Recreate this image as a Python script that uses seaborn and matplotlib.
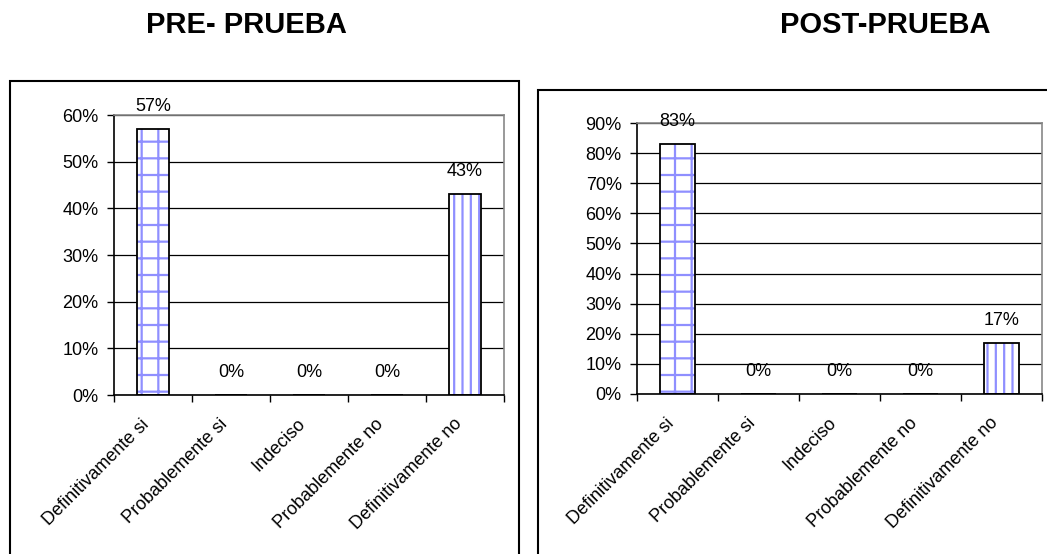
# Recreate PRE / POST prueba bar charts
import matplotlib
matplotlib.use("Agg")
import matplotlib.pyplot as plt
import matplotlib.transforms as mtransforms
from matplotlib.patches import Rectangle
import seaborn as sns
import numpy as np

# Data
categories = ["Definitivamente si", "Probablemente si", "Indeciso",
              "Probablemente no", "Definitivamente no"]
pre_values = [57, 0, 0, 0, 43]
post_values = [83, 0, 0, 0, 17]
hatches = ["+", "", "", "", "||"]

sns.set_style("white")
plt.rcParams["font.family"] = ["Liberation Sans", "DejaVu Sans"]
plt.rcParams["text.color"] = "black"
plt.rcParams["xtick.color"] = "black"
plt.rcParams["ytick.color"] = "black"
plt.rcParams["hatch.linewidth"] = 1.6

W, H = 1047, 554
fig = plt.figure(figsize=(W / 100, H / 100), dpi=100)


def frac(x0, y0, x1, y1):
    # pixel box (top-left origin) -> figure fraction rect
    return [x0 / W, 1 - y1 / H, (x1 - x0) / W, (y1 - y0) / H]


def draw_chart(ax, values, ymax, step):
    # hatch layer (blue lines)
    sns.barplot(x=categories, y=values, color="white", edgecolor="#8f8fff",
                linewidth=0, width=0.42, errorbar=None, ax=ax, zorder=2)
    for p, h in zip(ax.patches, hatches):
        p.set_hatch(h)
    # black outline layer
    sns.barplot(x=categories, y=values, fill=False, color="black",
                linewidth=1.3, width=0.42, errorbar=None, ax=ax, zorder=3)
    ax.bar_label(ax.containers[-1], labels=[f"{v}%" for v in values],
                 padding=10, fontsize=13, color="black")

    ax.set_ylim(0, ymax)
    ax.set_xlim(-0.5, 4.5)
    yt = np.arange(0, ymax + 1, step)
    ax.set_yticks(yt)
    ax.set_yticklabels([f"{t}%" for t in yt], fontsize=13)
    ax.set_xticks(range(len(categories)))
    ax.set_xticklabels(categories, rotation=45, ha="right",
                       rotation_mode="anchor", fontsize=13)
    ax.set_xticks(np.arange(-0.5, 5, 1), minor=True)
    ax.tick_params(axis="x", which="major", length=0, pad=12)
    ax.tick_params(axis="x", which="minor", length=5, width=1,
                   direction="out", color="black", bottom=True)
    ax.tick_params(axis="y", length=5, width=1, direction="out",
                   color="black", pad=6, left=True)
    # nudge the rotated labels a bit left and down
    offset = mtransforms.ScaledTranslation(-12 / 100, -4 / 100, fig.dpi_scale_trans)
    for lab in ax.get_xticklabels():
        lab.set_transform(lab.get_transform() + offset)
    ax.set_xlabel("")
    ax.set_ylabel("")

    ax.set_axisbelow(True)
    ax.yaxis.grid(True, color="black", linewidth=0.9)
    ax.xaxis.grid(False)
    for s in ["left", "bottom"]:
        ax.spines[s].set_color("black")
        ax.spines[s].set_linewidth(1.2)
    for s in ["top", "right"]:
        ax.spines[s].set_color("#888888")
        ax.spines[s].set_linewidth(1.2)


ax1 = fig.add_axes(frac(114, 115, 504, 395))
draw_chart(ax1, pre_values, 60, 10)

ax2 = fig.add_axes(frac(637, 123, 1042, 394))
draw_chart(ax2, post_values, 90, 10)

# outer chart frames
for box in [(10, 81, 519, 570), (538, 90, 1060, 570)]:
    r = frac(*box)
    fig.patches.append(Rectangle(r[:2], r[2], r[3],
                                 transform=fig.transFigure, fill=False,
                                 edgecolor="black", linewidth=1.5))

fig.text(246 / W, 1 - 25 / H, "PRE- PRUEBA", ha="center", va="center",
         fontsize=21, fontweight="bold")
fig.text(885 / W, 1 - 25 / H, "POST-PRUEBA", ha="center", va="center",
         fontsize=21, fontweight="bold")

fig.savefig("out.png", dpi=100, facecolor="white")
